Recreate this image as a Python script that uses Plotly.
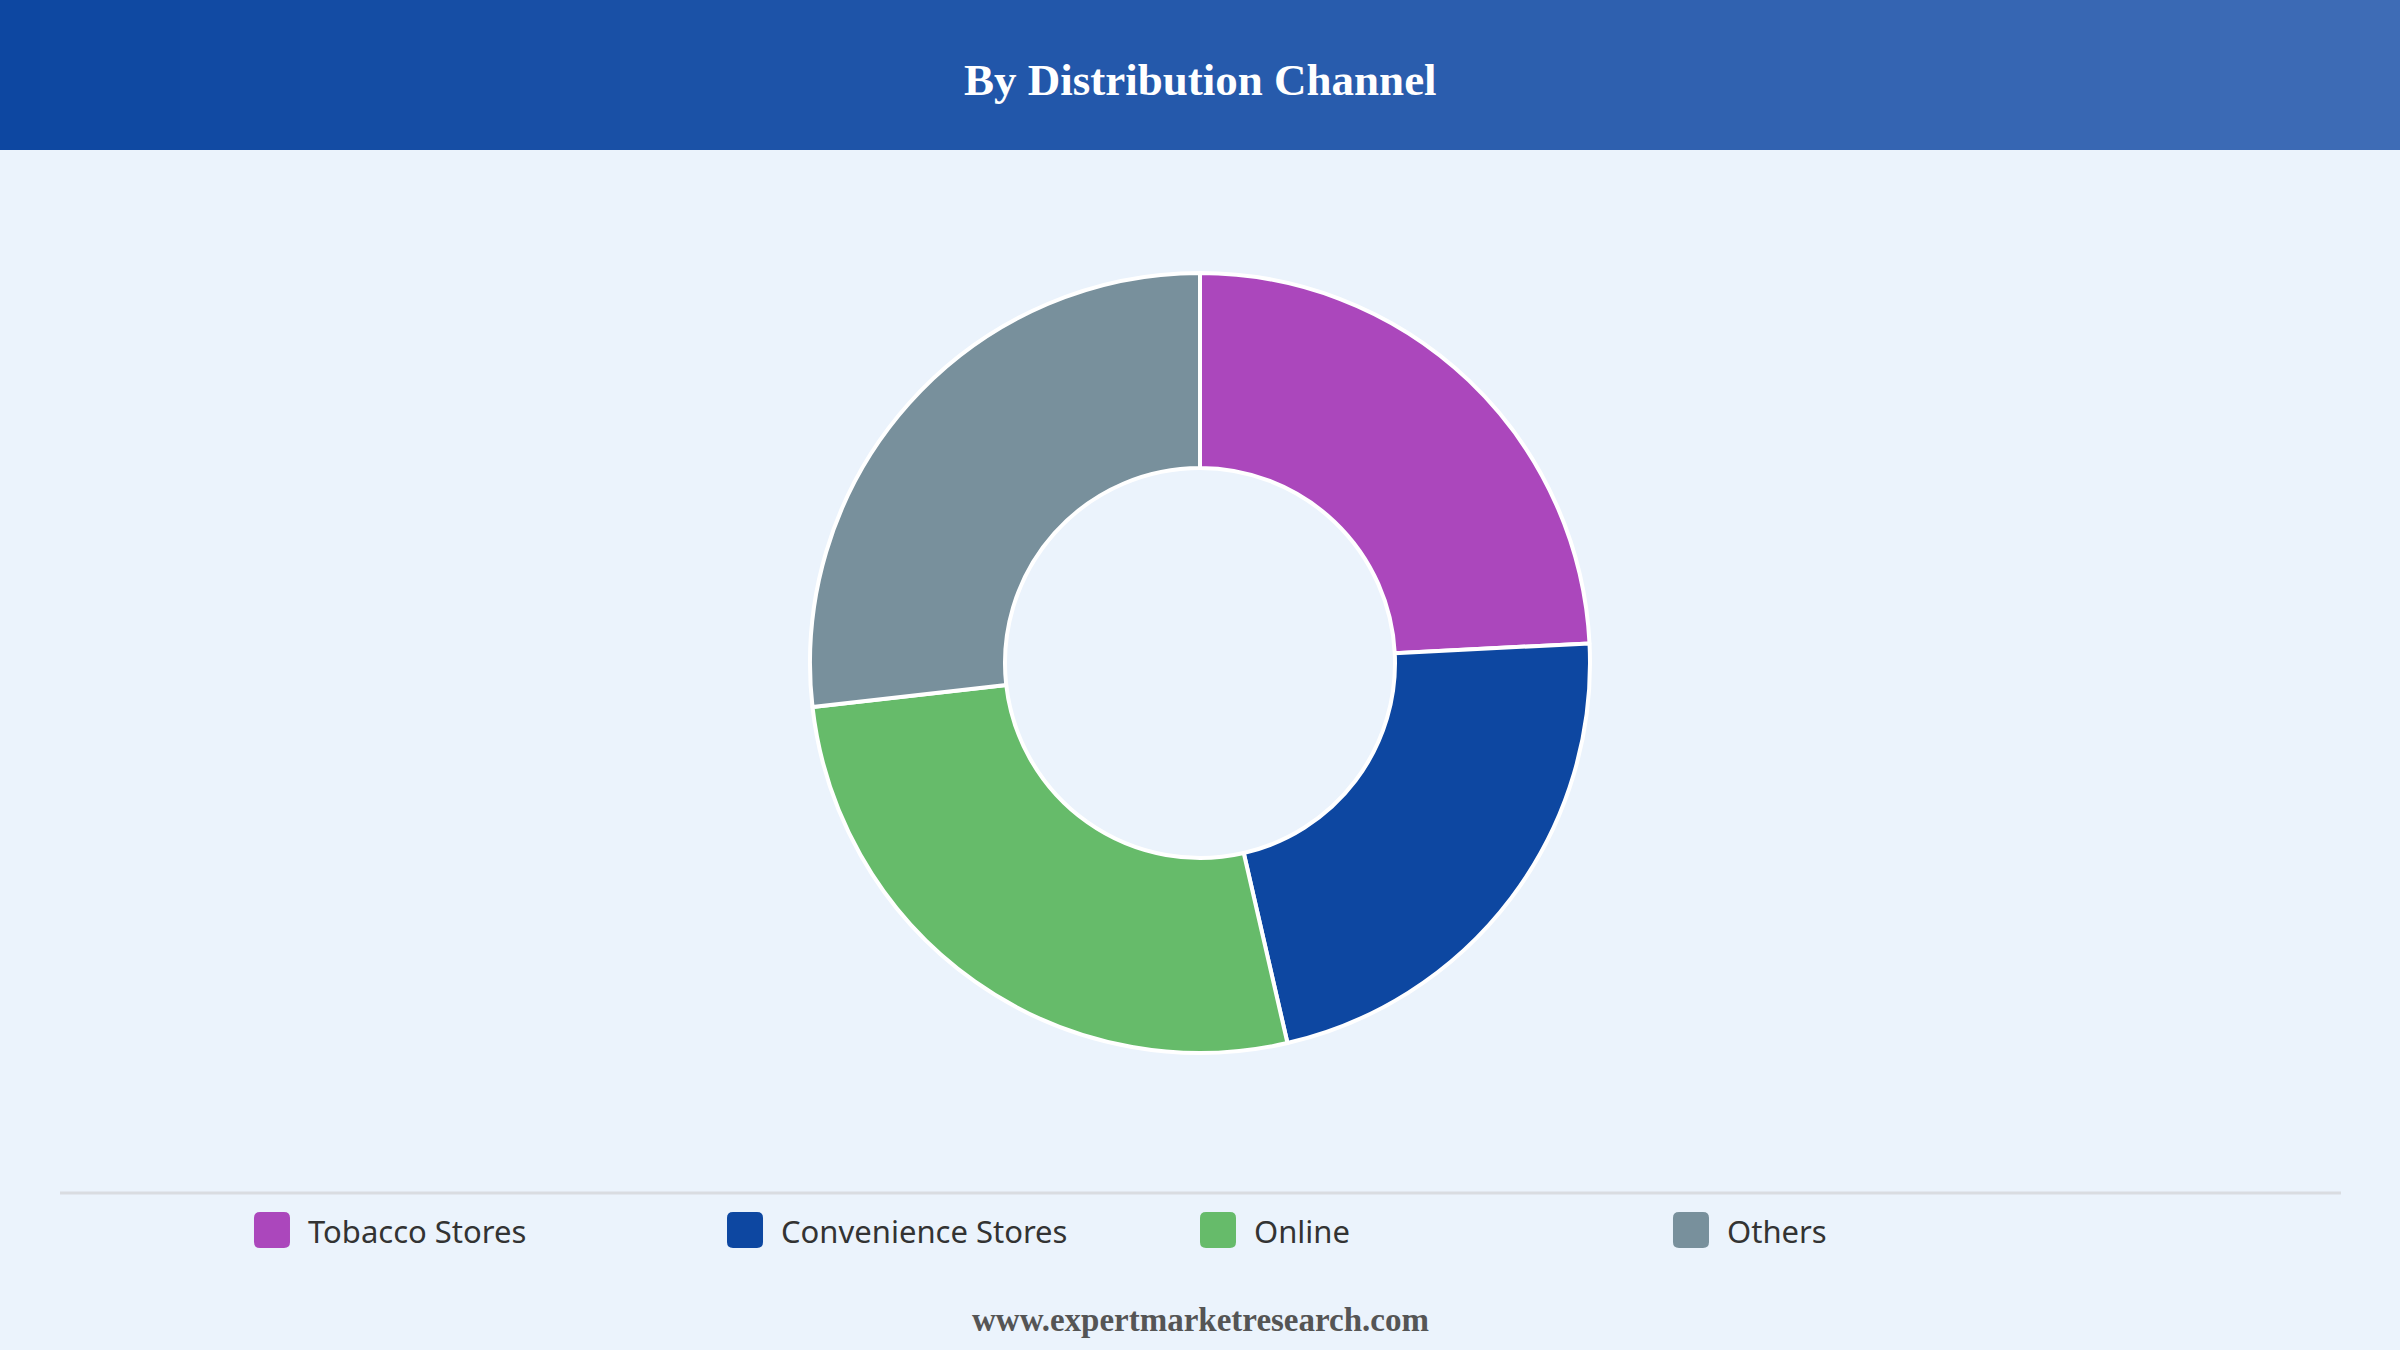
import plotly.graph_objects as go

W, H = 2400, 1350

# data
channels = ["Tobacco Stores", "Convenience Stores", "Online", "Others"]
shares = [24.2, 22.2, 26.8, 26.8]
colors = ["#AB47BC", "#0D47A1", "#66BB6A", "#78909C"]

title_text = "By Distribution Channel"
footer_text = "www.expertmarketresearch.com"

bg = "#EBF3FC"

# donut geometry in pixels
cx, cy, r = 1200, 663, 390

fig = go.Figure()
fig.add_trace(go.Pie(
    labels=channels,
    values=shares,
    hole=0.5,
    sort=False,
    direction="clockwise",
    rotation=0,
    textinfo="none",
    hoverinfo="label+percent",
    marker=dict(colors=colors, line=dict(color="white", width=4)),
    showlegend=False,
    domain=dict(x=[(cx - r) / W, (cx + r) / W],
                y=[1 - (cy + r) / H, 1 - (cy - r) / H]),
))

shapes = []

# header band with horizontal gradient, drawn as thin strips
c0 = (13, 71, 161)
c1 = (62, 108, 182)
n = 120
for i in range(n):
    t = i / (n - 1)
    col = "rgb({},{},{})".format(*[round(a + (b - a) * t) for a, b in zip(c0, c1)])
    shapes.append(dict(type="rect", xref="paper", yref="paper",
                       x0=i / n, x1=(i + 1) / n + 0.001,
                       y0=1 - 150 / H, y1=1,
                       fillcolor=col, line=dict(width=0), layer="below"))

# separator line above legend
shapes.append(dict(type="line", xref="paper", yref="paper",
                   x0=60 / W, x1=2341 / W,
                   y0=1 - 1193 / H, y1=1 - 1193 / H,
                   line=dict(color="#D9DCE1", width=3)))

annotations = [
    dict(text="<b>" + title_text + "</b>", x=0.5, y=1 - 80 / H,
         xref="paper", yref="paper", showarrow=False, yanchor="middle",
         font=dict(family="Liberation Serif", size=45, color="white")),
    dict(text="<b>" + footer_text + "</b>", x=0.5, y=1 - 1320 / H,
         xref="paper", yref="paper", showarrow=False, yanchor="middle",
         font=dict(family="Liberation Serif", size=33, color="#555555")),
]

# custom legend: rounded swatches + labels
def rounded_rect(x0, y0, x1, y1, rad):
    # pixel coords (y down) -> paper coords path
    def p(x, y):
        return "{:.5f},{:.5f}".format(x / W, 1 - y / H)
    return ("M" + p(x0 + rad, y0) + " L" + p(x1 - rad, y0) +
            " Q" + p(x1, y0) + " " + p(x1, y0 + rad) +
            " L" + p(x1, y1 - rad) +
            " Q" + p(x1, y1) + " " + p(x1 - rad, y1) +
            " L" + p(x0 + rad, y1) +
            " Q" + p(x0, y1) + " " + p(x0, y1 - rad) +
            " L" + p(x0, y0 + rad) +
            " Q" + p(x0, y0) + " " + p(x0 + rad, y0) + " Z")

for i, (name, col) in enumerate(zip(channels, colors)):
    lx = 254 + i * 473
    shapes.append(dict(type="path", xref="paper", yref="paper",
                       path=rounded_rect(lx, 1212, lx + 36, 1248, 6),
                       fillcolor=col, line=dict(width=0)))
    annotations.append(dict(text=name, x=(lx + 52) / W, y=1 - 1231 / H,
                            xref="paper", yref="paper", showarrow=False,
                            xanchor="left", yanchor="middle",
                            font=dict(family="Noto Sans", size=31, color="#333333")))

fig.update_layout(
    width=W, height=H,
    margin=dict(l=0, r=0, t=0, b=0),
    paper_bgcolor=bg,
    plot_bgcolor=bg,
    shapes=shapes,
    annotations=annotations,
)

fig.write_html("out.html", config={"displayModeBar": False},
               post_script="document.body.style.margin='0';")
